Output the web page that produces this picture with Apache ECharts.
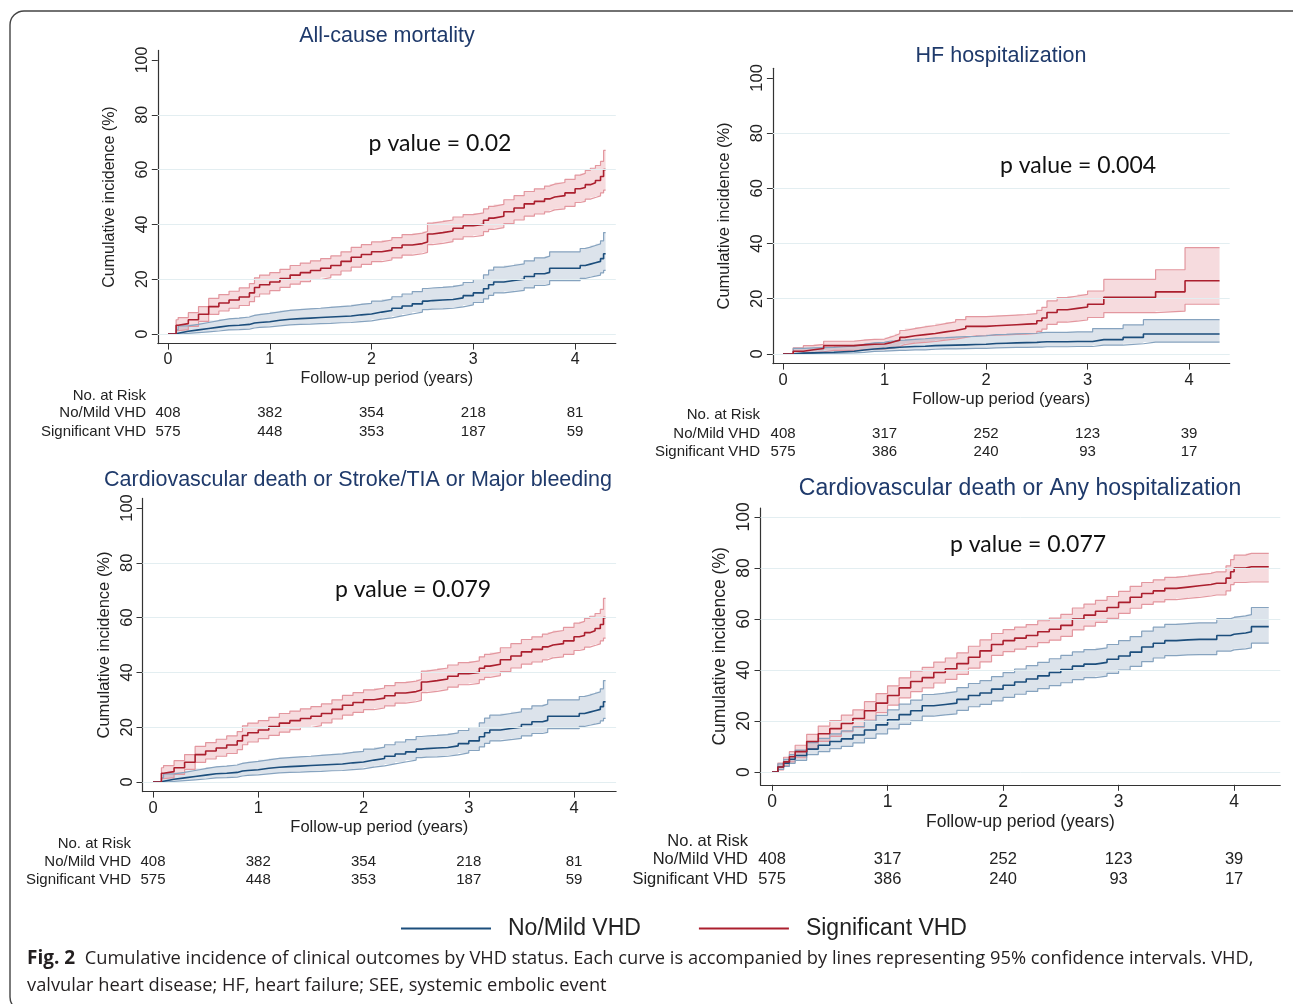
<!DOCTYPE html>
<html>
<head>
<meta charset="utf-8">
<title>Cumulative incidence by VHD status</title>
<script src="https://cdn.jsdelivr.net/npm/echarts@6/dist/echarts.min.js"></script>
<style>
  html, body { margin: 0; padding: 0; background: #fff; }
  #main { width: 1293px; height: 1004px; }
</style>
</head>
<body>
<div id="main"></div>
<script>
// values (years, cumulative incidence %)

// All-cause mortality
const mortYears = [0, 0.08, 0.1, 0.2, 0.3, 0.4, 0.5, 0.6, 0.7, 0.8, 0.85, 0.9, 1.0, 1.1, 1.2, 1.3, 1.4, 1.5, 1.6, 1.7, 1.8, 1.9, 2.0, 2.1, 2.2, 2.3, 2.4, 2.5, 2.55, 2.6, 2.7, 2.8, 2.9, 3.0, 3.1, 3.15, 3.2, 3.3, 3.4, 3.5, 3.6, 3.7, 3.75, 3.8, 3.9, 4.0, 4.05, 4.1, 4.15, 4.2, 4.25, 4.28, 4.3];
const mortNoMild   = [0, 0.3, 1, 1.5, 2, 2.5, 3, 3.2, 3.5, 4, 4.2, 4.5, 5, 5.4, 5.6, 5.8, 6, 6.2, 6.4, 6.6, 7, 7.3, 8, 8.6, 9.4, 10.2, 11, 12, 12.2, 12.4, 12.6, 13.2, 14, 15, 16.5, 18, 19, 19.5, 20, 21, 22, 22.5, 24, 24, 24, 24, 25, 25.5, 26, 26.5, 27.5, 29.3, 29.3];
const mortNoMildLo = [0, 0, 0.2, 0.5, 0.8, 1.1, 1.5, 1.6, 1.8, 2.2, 2.4, 2.6, 3, 3.3, 3.5, 3.6, 3.8, 3.9, 4.1, 4.2, 4.5, 4.8, 5.4, 5.9, 6.6, 7.3, 8, 8.9, 9.1, 9.2, 9.4, 9.9, 10.6, 11.5, 12.8, 14.1, 15, 15.5, 15.9, 16.8, 17.7, 18.1, 19.5, 19.5, 19.5, 19.5, 20.3, 20.7, 21.1, 21.5, 22.3, 23.2, 23.2];
const mortNoMildHi = [0, 1.5, 3, 3.5, 4.2, 4.9, 5.5, 5.8, 6.2, 6.8, 7.1, 7.5, 8.1, 8.6, 8.9, 9.2, 9.4, 9.7, 10, 10.3, 10.8, 11.2, 12, 12.7, 13.6, 14.6, 15.5, 16.6, 16.8, 17, 17.3, 17.9, 18.8, 19.9, 21.6, 23.3, 24.4, 25, 25.6, 26.7, 27.8, 28.4, 30, 30, 30, 30, 31.2, 31.7, 32.3, 32.9, 34, 37, 37];
const mortSig   = [0, 3.2, 3.8, 5.2, 7.2, 10, 11.3, 12.4, 13.5, 15, 17, 18, 19, 20.2, 21.5, 22.4, 23.2, 24, 25, 26.5, 28, 29, 30, 30.6, 31.5, 32.5, 33, 33.6, 36.5, 37, 37.6, 38.6, 39.5, 40, 41.5, 42.3, 43, 44.6, 46, 47.5, 48.4, 49.3, 50, 50.5, 51.5, 53, 53.5, 54.5, 55.2, 56, 57.5, 60, 60];
const mortSigLo = [0, 1.2, 1.6, 2.8, 4.6, 7.2, 8.4, 9.4, 10.4, 11.8, 13.6, 14.6, 15.8, 17, 18.2, 19.1, 19.9, 20.6, 21.6, 23, 24.4, 25.4, 26.4, 27, 27.8, 28.8, 29.3, 29.8, 32.6, 33.1, 33.7, 34.6, 35.5, 36, 37.4, 38.2, 38.8, 40.3, 41.6, 43, 43.8, 44.6, 45.3, 45.7, 46.6, 48, 48.4, 49.2, 49.8, 50.4, 51.5, 52.5, 52.5];
const mortSigHi = [0, 5.2, 6, 7.8, 10, 13, 14.4, 15.6, 16.8, 18.4, 20.5, 21.5, 22.4, 23.6, 25, 25.9, 26.7, 27.5, 28.5, 30, 31.6, 32.6, 33.6, 34.3, 35.2, 36.3, 36.8, 37.4, 40.5, 41, 41.6, 42.7, 43.6, 44.2, 45.7, 46.6, 47.3, 49, 50.5, 52, 53, 54, 54.7, 55.3, 56.4, 58, 58.6, 59.7, 60.5, 61.5, 63, 67, 67];

// HF hospitalization
const hfYears = [0, 0.1, 0.2, 0.3, 0.4, 0.5, 0.6, 0.7, 0.8, 0.9, 1.0, 1.05, 1.1, 1.15, 1.2, 1.3, 1.4, 1.5, 1.6, 1.7, 1.8, 1.9, 2.0, 2.1, 2.2, 2.3, 2.4, 2.5, 2.55, 2.6, 2.7, 2.8, 2.9, 3.0, 3.05, 3.16, 3.35, 3.55, 3.67, 3.96, 4.3];
const hfNoMild   = [0, 0.3, 0.4, 0.5, 0.6, 0.8, 1, 1.4, 1.8, 2, 2.2, 2.3, 2.4, 2.5, 2.7, 2.8, 3, 3.1, 3.2, 3.3, 3.4, 3.5, 3.8, 3.9, 4, 4.1, 4.2, 4.3, 4.4, 4.4, 4.4, 4.5, 4.5, 4.5, 5.2, 5.2, 6, 7.2, 7.2, 7.2, 7.2];
const hfNoMildLo = [0, 0, 0.1, 0.1, 0.2, 0.3, 0.4, 0.6, 0.9, 1, 1.1, 1.2, 1.3, 1.3, 1.5, 1.5, 1.7, 1.8, 1.8, 1.9, 2, 2, 2.2, 2.3, 2.4, 2.4, 2.5, 2.5, 2.6, 2.6, 2.6, 2.7, 2.7, 2.7, 3.2, 3.2, 3.7, 4.3, 4.3, 4.3, 4.3];
const hfNoMildHi = [0, 2, 2.2, 2.3, 2.4, 2.6, 2.8, 3.5, 4, 4.2, 4.6, 4.7, 4.9, 5, 5.3, 5.5, 5.8, 5.9, 6.1, 6.3, 6.4, 6.6, 7, 7.1, 7.3, 7.4, 7.5, 7.7, 7.8, 7.8, 7.8, 8, 8, 8, 9.2, 9.2, 10.5, 12.4, 12.4, 12.4, 12.4];
const hfSig   = [0, 1, 1.5, 2, 3, 3, 3, 3.3, 3.5, 3.6, 4, 4.5, 5, 6, 6.6, 7, 7.4, 8, 8.5, 9.2, 10, 10, 10.2, 10.4, 10.6, 10.8, 11, 12, 13, 15, 16, 16.5, 17, 18, 18, 20.5, 20.5, 20.5, 22.5, 26.5, 26.5];
const hfSigLo = [0, 0.2, 0.5, 0.8, 1.3, 1.3, 1.3, 1.5, 1.7, 1.8, 2, 2.3, 2.7, 3.4, 3.9, 4.2, 4.5, 5, 5.4, 6, 6.6, 6.6, 6.8, 6.9, 7.1, 7.2, 7.4, 8.2, 9, 10.7, 11.5, 11.9, 12.3, 13.2, 13.2, 15, 15, 15, 15.5, 18, 18];
const hfSigHi = [0, 2.2, 3, 3.5, 4.6, 4.6, 4.6, 5, 5.3, 5.4, 6, 6.6, 7.3, 8.5, 9.2, 9.8, 10.3, 11, 11.6, 12.4, 13.5, 13.5, 13.7, 13.9, 14.1, 14.3, 14.6, 15.8, 16.9, 19.2, 20.4, 21, 21.6, 22.8, 22.8, 27, 27, 27, 30.5, 38.5, 38.5];

// Cardiovascular death or Any hospitalization
const cvhYears = [0, 0.05, 0.1, 0.15, 0.2, 0.3, 0.4, 0.5, 0.6, 0.7, 0.8, 0.9, 1.0, 1.1, 1.2, 1.3, 1.4, 1.5, 1.6, 1.7, 1.8, 1.9, 2.0, 2.1, 2.2, 2.3, 2.4, 2.5, 2.6, 2.7, 2.8, 2.9, 3.0, 3.1, 3.2, 3.3, 3.4, 3.5, 3.6, 3.7, 3.8, 3.85, 3.93, 3.97, 4.0, 4.1, 4.15, 4.3];
const cvhNoMild   = [0, 2, 3.5, 5, 6.5, 9, 10.5, 12, 13, 14.5, 16.5, 18.5, 20.5, 22.5, 24, 26, 26.5, 27, 28.5, 30, 31, 32.5, 34, 35.3, 36.5, 37.7, 39, 40.2, 41.5, 42.3, 43, 44.2, 45.5, 47, 49, 50.5, 51.5, 51.8, 52, 52, 52, 53.5, 53.5, 54, 54.5, 55, 57, 57];
const cvhNoMildLo = [0, 1, 2.2, 3.4, 4.6, 6.8, 8, 9.2, 10.1, 11.4, 13.2, 15, 16.9, 18.7, 20.1, 21.9, 22.4, 22.8, 24.2, 25.6, 26.5, 27.9, 29.3, 30.5, 31.6, 32.7, 33.9, 35, 36.2, 37, 37.6, 38.7, 40, 41.4, 43.3, 44.7, 45.6, 45.9, 46, 46, 46, 47.4, 47.4, 47.9, 48.3, 48.7, 50.5, 50.5];
const cvhNoMildHi = [0, 3.2, 5, 6.8, 8.6, 11.5, 13.2, 15, 16.1, 17.8, 20, 22.2, 24.4, 26.6, 28.2, 30.4, 30.9, 31.5, 33.1, 34.7, 35.8, 37.4, 39, 40.4, 41.7, 43, 44.4, 45.7, 47.1, 48, 48.7, 50, 51.5, 53.1, 55.2, 56.8, 57.9, 58.2, 58.5, 58.5, 58.5, 60.1, 60.1, 60.6, 61.2, 61.7, 64.5, 64.5];
const cvhSig   = [0, 2, 4, 6, 8, 12, 15, 17, 19, 21, 24, 27, 30, 33, 35.5, 37, 39, 40.5, 42.5, 45, 47.5, 50, 51.5, 52.5, 53.5, 55, 56, 57.5, 60, 61.5, 63, 64.5, 66.5, 68.5, 70, 71, 72, 72.5, 73, 73.5, 74, 74, 76, 78.5, 80, 80.5, 80.5, 80.5];
const cvhSigLo = [0, 0.8, 2.4, 4, 5.6, 9.2, 12, 14, 15.8, 17.6, 20.4, 23.3, 26.2, 29.1, 31.5, 33, 34.9, 36.3, 38.3, 40.7, 43.2, 45.7, 47.2, 48.2, 49.2, 50.7, 51.7, 53.2, 55.7, 57.2, 58.7, 60.2, 62.2, 64.2, 65.7, 66.7, 67.6, 68.1, 68.5, 69, 69.4, 69.4, 71, 73.5, 74.3, 74.5, 74.5, 74.5];
const cvhSigHi = [0, 3.5, 5.8, 8, 10.5, 14.8, 18, 20.2, 22.3, 24.4, 27.6, 30.7, 33.8, 36.9, 39.5, 41, 43.1, 44.7, 46.7, 49.3, 51.8, 54.3, 55.8, 56.8, 57.8, 59.3, 60.3, 61.8, 64.3, 65.8, 67.3, 68.8, 70.8, 72.8, 74.3, 75.3, 76.3, 76.8, 77.4, 77.9, 78.5, 78.5, 80.8, 83.3, 85, 85.7, 85.7, 85.7];

// numbers at risk
const riskYears = [0, 1, 2, 3, 4];
const mortRiskNoMild = [408, 382, 354, 218, 81];
const mortRiskSig    = [575, 448, 353, 187, 59];
const hfRiskNoMild   = [408, 317, 252, 123, 39];
const hfRiskSig      = [575, 386, 240, 93, 17];

const groupNames = ['No/Mild VHD', 'Significant VHD'];
const panelTitles = ['All-cause mortality', 'HF hospitalization', 'Cardiovascular death or Stroke/TIA or Major bleeding', 'Cardiovascular death or Any hospitalization'];
const pValues = ['0.02', '0.004', '0.079', '0.077'];
const xTicks = [0, 1, 2, 3, 4];
const yTicks = [0, 20, 40, 60, 80, 100];
const gridLevels = [0, 20, 40, 60, 80];
const gridLevelsFull = [0, 20, 40, 60, 80, 100];

const FONT = '"Liberation Sans", Arial, sans-serif';
const CAPTION_FONT = '"Open Sans", Lato, sans-serif';
const INK = '#222';

const groups = [
  { line: '#1c4e7c', ci: '#86a3bf', band: 'rgba(35,80,130,0.16)' },
  { line: '#ab1f2e', ci: '#e3979f', band: 'rgba(205,55,70,0.18)' }
];

// panel C repeats the curves and risk table of panel A in the source figure,
// panel D uses the same risk table as panel B
const panels = [
  {
    years: mortYears,
    curves: [[mortNoMild, mortNoMildLo, mortNoMildHi], [mortSig, mortSigLo, mortSigHi]],
    risk: [mortRiskNoMild, mortRiskSig], levels: gridLevels,
    grid: { left: 157.8, top: 50.4, width: 458, height: 293.2 }, yMin: -3.5, nameGap: 40,
    fs: 16, titleFs: 21.5, tableFs: 15,
    titleAt: [387, 37], pAt: [440, 144], riskRows: [396, 413, 432], riskLabelX: 146
  },
  {
    years: hfYears,
    curves: [[hfNoMild, hfNoMildLo, hfNoMildHi], [hfSig, hfSigLo, hfSigHi]],
    risk: [hfRiskNoMild, hfRiskSig], levels: gridLevels,
    grid: { left: 772.9, top: 68.3, width: 456.8, height: 295.3 }, yMin: -3.5, nameGap: 40,
    fs: 16.5, titleFs: 21.5, tableFs: 15,
    titleAt: [1001, 57], pAt: [1078, 166], riskRows: [415, 434, 452], riskLabelX: 760
  },
  {
    years: mortYears,
    curves: [[mortNoMild, mortNoMildLo, mortNoMildHi], [mortSig, mortSigLo, mortSigHi]],
    risk: [mortRiskNoMild, mortRiskSig], levels: gridLevels,
    grid: { left: 142.5, top: 498.4, width: 473.6, height: 293.2 }, yMin: -3.5, nameGap: 30,
    fs: 16.5, titleFs: 21.5, tableFs: 15,
    titleAt: [358, 481], pAt: [413, 590], riskRows: [844, 862, 880], riskLabelX: 131
  },
  {
    years: cvhYears,
    curves: [[cvhNoMild, cvhNoMildLo, cvhNoMildHi], [cvhSig, cvhSigLo, cvhSigHi]],
    risk: [hfRiskNoMild, hfRiskSig], levels: gridLevelsFull,
    grid: { left: 760.5, top: 508, width: 519.8, height: 276.8 }, yMin: -5, nameGap: 31,
    fs: 17.5, titleFs: 23, tableFs: 16.5,
    titleAt: [1020, 490], pAt: [1028, 545], riskRows: [841, 859, 879], riskLabelX: 748
  }
];

const pts = (years, vals) => years.map((t, k) => [t, vals[k]]);

const grids = [], xAxes = [], yAxes = [], titles = [];
const gridSeries = [], bands = [], ciLines = [], estLines = [];

panels.forEach((p, i) => {
  grids.push(Object.assign({ containLabel: false }, p.grid));
  xAxes.push({
    type: 'value', gridIndex: i, min: -0.1, max: 4.4,
    name: 'Follow-up period (years)', nameLocation: 'middle', nameGap: p.fs + 11,
    nameTextStyle: { fontFamily: FONT, fontSize: p.fs, color: INK },
    axisLine: { onZero: false, lineStyle: { color: '#333', width: 1.2 } },
    axisTick: { customValues: xTicks, length: 6, lineStyle: { color: '#333' } },
    axisLabel: { customValues: xTicks, fontFamily: FONT, fontSize: p.fs, color: INK, margin: 8 },
    splitLine: { show: false }
  });
  yAxes.push({
    type: 'value', gridIndex: i, min: p.yMin, max: 103.5,
    name: 'Cumulative incidence (%)', nameLocation: 'middle', nameGap: p.nameGap, nameRotate: 90,
    nameTextStyle: { fontFamily: FONT, fontSize: p.fs, color: INK },
    axisLine: { show: true, onZero: false, lineStyle: { color: '#333', width: 1.2 } },
    axisTick: { show: true, customValues: yTicks, length: 6, lineStyle: { color: '#333' } },
    axisLabel: { customValues: yTicks, rotate: 90, fontFamily: FONT, fontSize: p.fs, color: INK, margin: 7 },
    splitLine: { show: false }
  });
  titles.push({
    text: panelTitles[i], left: p.titleAt[0], top: p.titleAt[1] - p.titleFs / 2 - 1, textAlign: 'center', padding: 0,
    textStyle: { fontFamily: FONT, fontSize: p.titleFs, fontWeight: 'normal', color: '#1f3a6b' }
  });

  // light horizontal grid lines behind everything
  gridSeries.push({
    type: 'line', xAxisIndex: i, yAxisIndex: i, data: [], silent: true, z: 0,
    markLine: {
      silent: true, symbol: 'none', animation: false, label: { show: false },
      lineStyle: { color: '#e3eef1', width: 1, type: 'solid' },
      data: p.levels.map(v => ({ yAxis: v }))
    }
  });

  // confidence bands: red below blue, then CI lines, then estimates on top
  [1, 0].forEach(g => {
    const [est, lo, hi] = p.curves[g];
    const st = groups[g];
    const years = p.years;
    bands.push({
      type: 'custom', xAxisIndex: i, yAxisIndex: i, silent: true, z: 1,
      name: groupNames[g] + ' 95% CI',
      data: years.map((t, k) => [t, lo[k], hi[k]]),
      encode: { x: 0, y: [1, 2] },
      renderItem: (params, api) => {
        if (params.dataIndex !== 0) return null;
        const n = years.length, up = [], down = [];
        for (let k = 0; k < n; k++) {
          const t1 = k + 1 < n ? years[k + 1] : years[k];
          up.push(api.coord([years[k], hi[k]]), api.coord([t1, hi[k]]));
          down.push(api.coord([years[k], lo[k]]), api.coord([t1, lo[k]]));
        }
        return { type: 'polygon', shape: { points: up.concat(down.reverse()) }, style: { fill: st.band } };
      }
    });
    [lo, hi].forEach(vals => {
      ciLines.push({
        type: 'line', xAxisIndex: i, yAxisIndex: i, step: 'end', symbol: 'none', silent: true,
        name: groupNames[g] + ' CI', data: pts(years, vals),
        lineStyle: { color: st.ci, width: 1.2 }, z: 2
      });
    });
  });
  [0, 1].forEach(g => {
    const st = groups[g];
    estLines.push({
      type: 'line', xAxisIndex: i, yAxisIndex: i, step: 'end', symbol: 'none', silent: true,
      name: groupNames[g], data: pts(p.years, p.curves[g][0]),
      itemStyle: { color: st.line }, lineStyle: { color: st.line, width: 1.6 }, z: 3
    });
  });
});

const chart = echarts.init(document.getElementById('main'));
chart.setOption({
  animation: false,
  title: titles,
  grid: grids,
  xAxis: xAxes,
  yAxis: yAxes,
  legend: {
    data: groupNames, left: 396, top: 912, icon: 'rect', itemWidth: 90, itemHeight: 2, itemGap: 58,
    selectedMode: false,
    textStyle: { fontFamily: FONT, fontSize: 23, color: INK, padding: [0, 0, 0, 12] }
  },
  series: gridSeries.concat(bands, ciLines, estLines)
});

// text placed around the plots: p values, numbers at risk, caption, frame
const txt = (x, y, s, align, font, fill) => ({
  type: 'text', x: x, y: y, silent: true,
  style: { text: s, font: font, fill: fill || INK, align: align, textAlign: align, verticalAlign: 'middle', textVerticalAlign: 'middle' }
});

const graphics = [{
  type: 'rect', silent: true, z: -1,
  shape: { x: 10, y: 11, width: 1300, height: 1000, r: 14 },
  style: { fill: 'none', stroke: '#444', lineWidth: 1.4 }
}];

panels.forEach((p, i) => {
  const tableFont = p.tableFs + 'px ' + FONT;
  graphics.push(txt(p.pAt[0], p.pAt[1], 'p value = ' + pValues[i], 'center', '23px Lato, "Open Sans", sans-serif', '#111'));
  const [hY, r1, r2] = p.riskRows;
  graphics.push(txt(p.riskLabelX, hY, 'No. at Risk', 'right', tableFont));
  graphics.push(txt(p.riskLabelX, r1, groupNames[0], 'right', tableFont));
  graphics.push(txt(p.riskLabelX, r2, groupNames[1], 'right', tableFont));
  riskYears.forEach((yr, k) => {
    const x = chart.convertToPixel({ xAxisIndex: i }, yr);
    graphics.push(txt(x, r1, String(p.risk[0][k]), 'center', tableFont));
    graphics.push(txt(x, r2, String(p.risk[1][k]), 'center', tableFont));
  });
});

graphics.push({
  type: 'text', x: 27, y: 959, silent: true,
  style: {
    text: '{b|Fig. 2}  Cumulative incidence of clinical outcomes by VHD status. Each curve is accompanied by lines representing 95% confidence intervals. VHD,',
    font: '18.3px ' + CAPTION_FONT, fill: '#231f20', verticalAlign: 'middle', textVerticalAlign: 'middle',
    rich: { b: { font: 'bold 19px ' + CAPTION_FONT, fill: '#231f20' } }
  }
});
graphics.push(txt(27, 986, 'valvular heart disease; HF, heart failure; SEE, systemic embolic event', 'left', '18.3px ' + CAPTION_FONT, '#231f20'));

chart.setOption({ graphic: graphics });
</script>
</body>
</html>
